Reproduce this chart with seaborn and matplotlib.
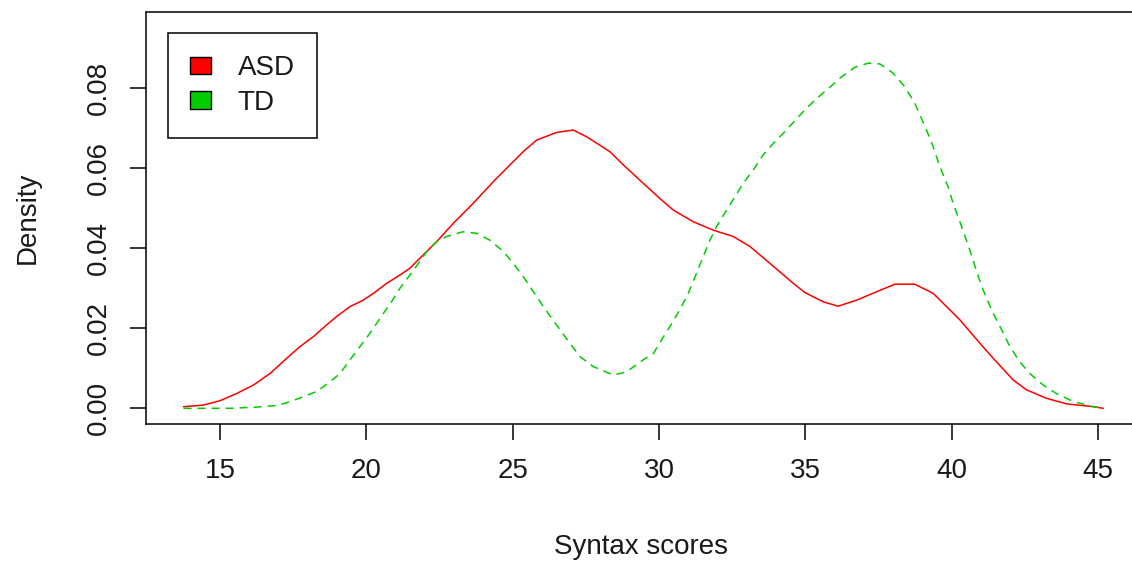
import matplotlib
matplotlib.use("Agg")
import matplotlib.pyplot as plt
from matplotlib.patches import Patch
import seaborn as sns
import pandas as pd

# ---- data ----
asd_x = [13.75, 14.43, 15.0, 15.57, 16.14, 16.71, 17.28, 17.73, 18.19, 18.64, 18.98,
         19.44, 19.89, 20.24, 20.69, 21.15, 21.49, 21.83, 22.40, 22.97, 23.65, 24.39,
         25.36, 25.82, 26.50, 27.07, 27.53, 28.32, 28.78, 29.46, 30.09, 30.49, 31.17,
         31.85, 32.54, 33.11, 33.79, 34.59, 34.99, 35.61, 36.12, 36.75, 37.43, 38.06,
         38.74, 39.37, 40.28, 40.97, 41.42, 42.10, 42.56, 43.24, 43.93, 44.84, 45.18]
asd_y = [0.0004, 0.0008, 0.0019, 0.0037, 0.0058, 0.0087, 0.0125, 0.0154, 0.0179, 0.0208, 0.0229,
         0.0254, 0.0270, 0.0287, 0.0312, 0.0333, 0.0350, 0.0375, 0.0416, 0.0462, 0.0512, 0.0570,
         0.0641, 0.0670, 0.0689, 0.0695, 0.0678, 0.0641, 0.0608, 0.0562, 0.0520, 0.0495, 0.0466,
         0.0445, 0.0429, 0.0404, 0.0362, 0.0312, 0.0289, 0.0266, 0.0255, 0.0270, 0.0291, 0.0310,
         0.0310, 0.0287, 0.0221, 0.0162, 0.0125, 0.0071, 0.0046, 0.0025, 0.0011, 0.0004, 0.0000]

td_x = [13.75, 14.43, 15.34, 16.25, 16.94, 17.28, 17.85, 18.30, 18.76, 19.10, 19.44, 19.78,
        20.12, 20.35, 20.58, 20.86, 21.15, 21.49, 21.78, 22.06, 22.40, 22.74, 23.31, 23.77,
        24.22, 24.68, 25.02, 25.36, 25.71, 26.05, 26.33, 26.62, 26.96, 27.30, 27.76, 28.44,
        28.89, 29.46, 29.81, 30.09, 30.37, 30.71, 31.00, 31.28, 31.51, 31.74, 31.97, 32.31,
        32.60, 32.88, 33.22, 33.56, 33.91, 34.25, 34.59, 34.93, 35.33, 35.84, 36.24, 36.70,
        37.15, 37.55, 38.00, 38.40, 38.74, 39.14, 39.37, 39.60, 39.88, 40.05, 40.34, 40.62,
        40.91, 41.08, 41.42, 41.71, 41.99, 42.33, 42.67, 43.13, 43.58, 44.15, 44.84, 45.18]
td_y = [0.0000, 0.0000, 0.0000, 0.0003, 0.0007, 0.0014, 0.0029, 0.0042, 0.0066, 0.0087, 0.0121, 0.0154,
        0.0187, 0.0212, 0.0237, 0.0266, 0.0300, 0.0333, 0.0362, 0.0391, 0.0416, 0.0429, 0.0441, 0.0437,
        0.0420, 0.0392, 0.0362, 0.0329, 0.0291, 0.0254, 0.0225, 0.0196, 0.0162, 0.0129, 0.0104, 0.0083,
        0.0091, 0.0121, 0.0137, 0.0171, 0.0204, 0.0246, 0.0287, 0.0337, 0.0379, 0.0420, 0.0454, 0.0495,
        0.0529, 0.0562, 0.0595, 0.0633, 0.0662, 0.0687, 0.0714, 0.0741, 0.0770, 0.0802, 0.0828, 0.0852,
        0.0862, 0.0860, 0.0837, 0.0803, 0.0762, 0.0695, 0.0653, 0.0603, 0.0553, 0.0512, 0.0454, 0.0395,
        0.0329, 0.0295, 0.0237, 0.0196, 0.0154, 0.0116, 0.0087, 0.0058, 0.0037, 0.0017, 0.0004, 0.0001]

groups = ["ASD", "TD"]
colors = {"ASD": "#FF0000", "TD": "#00CD00"}
x_ticks = [15, 20, 25, 30, 35, 40, 45]
y_ticks = [0.00, 0.02, 0.04, 0.06, 0.08]
y_tick_labels = ["0.00", "0.02", "0.04", "0.06", "0.08"]
x_label = "Syntax scores"
y_label = "Density"

assert len(asd_x) == len(asd_y) and len(td_x) == len(td_y)

df = pd.concat([
    pd.DataFrame({"score": asd_x, "density": asd_y, "group": "ASD"}),
    pd.DataFrame({"score": td_x, "density": td_y, "group": "TD"}),
], ignore_index=True)

# ---- style ----
sns.set_style("ticks")
plt.rcParams["font.family"] = ["Liberation Sans", "DejaVu Sans"]
plt.rcParams["lines.scale_dashes"] = False
FS = 20

fig = plt.figure(figsize=(11.32, 5.65), dpi=100)
ax = fig.add_axes([146 / 1132, (565 - 424) / 565, 995 / 1132, 412.5 / 565])

sns.lineplot(data=df, x="score", y="density", hue="group", style="group",
             hue_order=groups, style_order=groups, palette=colors,
             dashes={"ASD": "", "TD": (5.8, 4.3)}, sort=False, estimator=None,
             units="group", linewidth=1.1, legend=False, ax=ax)

ax.set_xlim(12.47, 46.47)
ax.set_ylim(-0.00392, 0.0991)
ax.set_xticks(x_ticks)
ax.set_xticklabels([str(t) for t in x_ticks])
ax.set_yticks(y_ticks)
ax.set_yticklabels(y_tick_labels)

for sp in ax.spines.values():
    sp.set_visible(True)
    sp.set_color("black")
    sp.set_linewidth(1.1)

ax.tick_params(axis="both", direction="out", length=11.5, width=1.1, color="black",
               labelsize=FS, pad=13, labelcolor="#1a1a1a")
plt.setp(ax.get_yticklabels(), rotation=90, va="center")

ax.set_xlabel(x_label, fontsize=FS, color="#1a1a1a")
ax.set_ylabel(y_label, fontsize=FS, color="#1a1a1a")
ax.xaxis.set_label_coords((641 - 146) / 995, -(547 - 424) / 412.5)
ax.xaxis.label.set_va("center")
ax.yaxis.set_label_coords((28 - 146) / 995, 0.5)
ax.yaxis.label.set_va("center")

handles = [Patch(facecolor=colors[g], edgecolor="black", linewidth=1.0) for g in groups]
leg = ax.legend(handles, groups, loc="upper left",
                bbox_to_anchor=(168 / 1132, 1 - 33 / 565), bbox_transform=fig.transFigure,
                borderaxespad=0, frameon=True, fancybox=False, shadow=False,
                edgecolor="black", framealpha=1, fontsize=FS,
                handlelength=0.75, handleheight=0.6, handletextpad=0.95,
                labelspacing=0.3, borderpad=0.8)
leg.get_frame().set_linewidth(1.1)
for t in leg.get_texts():
    t.set_color("#1a1a1a")

fig.savefig("out.png", dpi=100)
